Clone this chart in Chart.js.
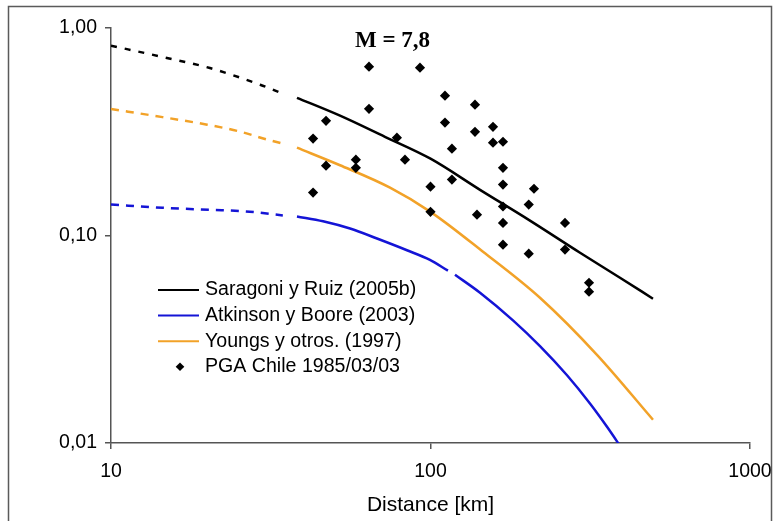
<!DOCTYPE html>
<html><head><meta charset="utf-8">
<script src="https://cdn.jsdelivr.net/npm/chart.js@4.4.1/dist/chart.umd.min.js"></script>
<style>html,body{margin:0;padding:0;background:#fff;} canvas{display:block;}</style>
</head><body>
<canvas id="c" width="773" height="521"></canvas>
<script>
// ---- text ----
const chartTitle = 'M = 7,8';
const xAxisTitle = 'Distance [km]';
const xTickValues = [10, 100, 1000];
const xTickLabels = ['10', '100', '1000'];
const yTickValues = [0.01, 0.1, 1];
const yTickLabels = ['0,01', '0,10', '1,00'];
const seriesNames = ['Saragoni y Ruiz (2005b)', 'Atkinson y Boore (2003)', 'Youngs y otros. (1997)', 'PGA Chile 1985/03/03'];

// ---- Saragoni y Ruiz (2005b) ----
const sarDashDist = [10, 14.5, 20.4, 29.3, 34.5];
const sarDashPga  = [0.822, 0.725, 0.641, 0.533, 0.482];
const sarDist = [38.2, 52.1, 72.0, 100, 142.9, 204.8, 293.8, 391.8, 497];
const sarPga  = [0.461, 0.378, 0.299, 0.2345, 0.166, 0.118, 0.0826, 0.0626, 0.0496];

// ---- Atkinson y Boore (2003) ----
const abDashDist = [10, 14.5, 20.4, 25.9, 34.5];
const abDashPga  = [0.141, 0.136, 0.133, 0.131, 0.125];
const abDist = [38.2, 46.1, 56.0, 68.0, 84.4, 99.6, 113.4, 116, 119.3, 142.9, 181.2, 220.1, 267.5, 315.6, 356.8, 397.5];
const abPga  = [0.1236, 0.1171, 0.108, 0.0967, 0.0849, 0.0763, 0.0677, null, 0.0647, 0.053, 0.039, 0.0293, 0.0212, 0.0155, 0.01197, 0.00939];

// ---- Youngs y otros (1997) ----
const yoDashDist = [10, 14.5, 20, 25.3, 30.8, 34.5];
const yoDashPga  = [0.407, 0.372, 0.342, 0.317, 0.290, 0.277];
const yoDist = [38.2, 52.1, 74.7, 100, 146.0, 220.1, 331.9, 497];
const yoPga  = [0.265, 0.218, 0.170, 0.130, 0.0835, 0.0501, 0.0266, 0.01295];

// ---- PGA Chile 1985/03/03 ----
const obsDist = [42.9, 42.9, 47.1, 47.1, 58.4, 58.4, 64.2, 64.2, 78.5, 83.2, 92.7, 100, 100, 111, 111, 116.7, 116.7,
                 137.8, 137.8, 139.8, 156.9, 156.9, 168.6, 168.6, 168.6, 168.6, 168.6, 168.6, 203, 203, 210.8, 263.6, 263.6, 313.4, 313.4];
const obsPga  = [0.161, 0.293, 0.357, 0.217, 0.232, 0.212, 0.651, 0.408, 0.296, 0.232, 0.644, 0.172, 0.130, 0.472, 0.350, 0.262, 0.186,
                 0.427, 0.316, 0.126, 0.334, 0.280, 0.283, 0.212, 0.176, 0.138, 0.115, 0.0903, 0.141, 0.0817, 0.168, 0.115, 0.0855, 0.0592, 0.0536];

const COL_BLACK = '#000000', COL_BLUE = '#1414d6', COL_ORANGE = '#f2a228';
const FONT = '"Liberation Sans", Arial, sans-serif';

function pts(xs, ys) { return xs.map((x, i) => ({ x: x, y: ys[i] })); }

function curve(label, xs, ys, color, dash, order) {
  return {
    label: label, data: pts(xs, ys), showLine: true, borderColor: color, backgroundColor: color,
    borderWidth: 2.5, borderDash: dash || [], pointRadius: 0, pointHoverRadius: 0,
    cubicInterpolationMode: 'monotone', fill: false, spanGaps: false, order: order
  };
}

const datasets = [
  { label: seriesNames[3], data: pts(obsDist, obsPga), showLine: false, pointStyle: 'rectRot',
    pointRadius: 5.1, pointBorderWidth: 0, backgroundColor: COL_BLACK, borderColor: COL_BLACK, order: 0 },
  curve(seriesNames[0], sarDist, sarPga, COL_BLACK, null, 1),
  curve('', sarDashDist, sarDashPga, COL_BLACK, [6, 8], 1),
  curve(seriesNames[1], abDist, abPga, COL_BLUE, null, 2),
  curve('', abDashDist, abDashPga, COL_BLUE, [8, 7], 2),
  curve(seriesNames[2], yoDist, yoPga, COL_ORANGE, null, 3),
  curve('', yoDashDist, yoDashPga, COL_ORANGE, [8, 7], 3)
];

const framePlugin = {
  id: 'frame',
  beforeDraw(chart) {
    const ctx = chart.ctx;
    ctx.save();
    ctx.fillStyle = '#ffffff';
    ctx.fillRect(0, 0, chart.width, chart.height);
    ctx.strokeStyle = '#5a5a5a';
    ctx.lineWidth = 1.5;
    ctx.strokeRect(8.5, 6.5, 763, 540);
    ctx.restore();
  }
};

const titlePlugin = {
  id: 'innerTitle',
  afterDraw(chart) {
    const ctx = chart.ctx;
    ctx.save();
    ctx.font = 'bold 23px "Liberation Serif", "Times New Roman", serif';
    ctx.fillStyle = '#000';
    ctx.textAlign = 'center';
    ctx.textBaseline = 'middle';
    ctx.fillText(chartTitle, 392.5, 41);
    ctx.restore();
  }
};

const legendPlugin = {
  id: 'innerLegend',
  afterDraw(chart) {
    const ctx = chart.ctx;
    const items = [
      { text: seriesNames[0], color: COL_BLACK, kind: 'line' },
      { text: seriesNames[1], color: COL_BLUE, kind: 'line' },
      { text: seriesNames[2], color: COL_ORANGE, kind: 'line' },
      { text: seriesNames[3], color: COL_BLACK, kind: 'point' }
    ];
    ctx.save();
    ctx.font = '19.6px ' + FONT;
    ctx.textAlign = 'left';
    ctx.textBaseline = 'middle';
    items.forEach((it, i) => {
      const y = 290 + i * 25.6;
      if (it.kind === 'line') {
        ctx.strokeStyle = it.color;
        ctx.lineWidth = 2;
        ctx.beginPath(); ctx.moveTo(158, y); ctx.lineTo(199, y); ctx.stroke();
      } else {
        ctx.fillStyle = it.color;
        ctx.beginPath();
        ctx.moveTo(180, y - 4.3); ctx.lineTo(184.3, y); ctx.lineTo(180, y + 4.3); ctx.lineTo(175.7, y);
        ctx.closePath(); ctx.fill();
      }
      ctx.fillStyle = '#000';
      ctx.fillText(it.text, 205, y);
    });
    ctx.restore();
  }
};

new Chart(document.getElementById('c'), {
  type: 'scatter',
  data: { datasets: datasets },
  plugins: [framePlugin, titlePlugin, legendPlugin],
  options: {
    responsive: false,
    animation: false,
    devicePixelRatio: 1,
    layout: { padding: { top: 28, right: 23, left: 0, bottom: 0 } },
    plugins: { legend: { display: false }, title: { display: false }, tooltip: { enabled: false } },
    scales: {
      x: {
        type: 'logarithmic', min: 10, max: 1000,
        afterBuildTicks: s => { s.ticks = xTickValues.map(v => ({ value: v })); },
        afterFit: s => { s.height = 78; s.paddingLeft = 0; s.paddingRight = 0; },
        ticks: { callback: (v, i) => xTickLabels[i], font: { size: 19.5, family: FONT }, color: '#000',
                 padding: 11, maxRotation: 0, autoSkip: false },
        grid: { drawOnChartArea: false, drawTicks: true, tickLength: 6, color: '#555', lineWidth: 1.5 },
        border: { color: '#555', width: 1.5 },
        title: { display: true, text: xAxisTitle, font: { size: 21, family: FONT }, color: '#000',
                 padding: { top: 0, bottom: 3 } }
      },
      y: {
        type: 'logarithmic', min: 0.01, max: 1,
        afterBuildTicks: s => { s.ticks = yTickValues.map(v => ({ value: v })); },
        afterFit: s => { s.width = 111; s.paddingTop = 0; s.paddingBottom = 0; },
        ticks: { callback: (v, i) => yTickLabels[i], font: { size: 19.5, family: FONT }, color: '#000',
                 padding: 8, autoSkip: false },
        grid: { drawOnChartArea: false, drawTicks: true, tickLength: 6, color: '#555', lineWidth: 1.5 },
        border: { color: '#555', width: 1.5 }
      }
    }
  }
});
</script>
</body></html>
